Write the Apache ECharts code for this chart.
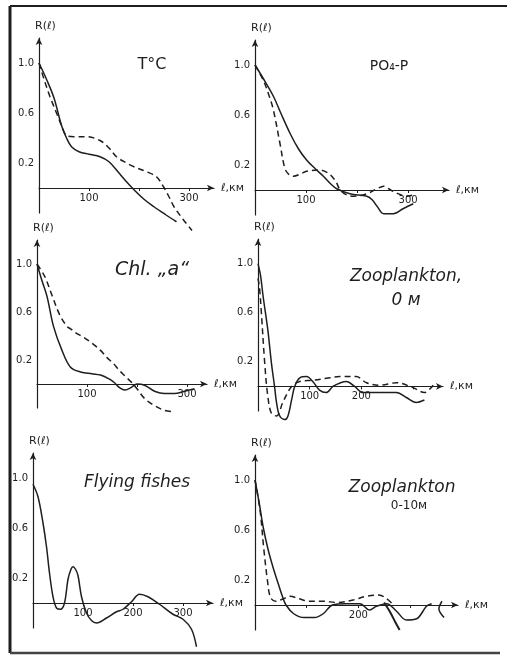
<!DOCTYPE html>
<html>
<head>
<meta charset="utf-8">
<script src="https://cdn.jsdelivr.net/npm/echarts@6/dist/echarts.min.js"></script>
<style>
html,body{margin:0;padding:0;background:#fff;}
#main{width:507px;height:657px;}
</style>
</head>
<body>
<div id="main"></div>
<script>
// panel titles
var titles = ["T°C", "PO₄-P", "Chl. „a“", "Zooplankton,\n0 м", "Flying fishes", "Zooplankton"];
var subTitle6 = "0-10м";
// x labels shown on each panel
var xLabels = [[100, 300], [100, 300], [100, 300], [100, 200], [100, 200, 300], [200]];
var yLabels = [0.2, 0.6, 1.0];

// T°C
var tSolid = [[0,1.0],[15,0.87],[30,0.72],[45,0.5],[55,0.4],[65,0.33],[80,0.29],[100,0.27],[122,0.25],[140,0.21],[160,0.12],[175,0.05],[189,-0.01],[210,-0.09],[230,-0.15],[252,-0.21],[275,-0.27]];
var tDash = [[0,1.0],[10,0.87],[22,0.73],[35,0.6],[45,0.5],[55,0.42],[70,0.41],[95,0.41],[122,0.38],[140,0.32],[155,0.25],[175,0.2],[190,0.17],[215,0.13],[235,0.09],[249,0.01],[260,-0.07],[270,-0.15],[288,-0.25],[306,-0.34]];
// PO4-P
var pSolid = [[0,1.0],[15,0.9],[36,0.75],[50,0.62],[69,0.45],[85,0.33],[101,0.24],[118,0.17],[134,0.11],[148,0.05],[160,0.01],[186,-0.03],[219,-0.05],[230,-0.08],[239,-0.13],[252,-0.19],[271,-0.19],[290,-0.15],[310,-0.11]];
var pDash = [[0,1.0],[16,0.88],[28,0.75],[36,0.64],[49,0.37],[58,0.18],[65,0.13],[75,0.11],[90,0.13],[101,0.15],[127,0.16],[145,0.13],[158,0.07],[167,0.0],[180,-0.04],[193,-0.05],[219,-0.03],[239,0.01],[252,0.03],[262,0.01],[275,-0.02],[297,-0.05],[310,-0.04]];
// Chl a
var cSolid = [[0,1.0],[10,0.86],[20,0.73],[33,0.48],[50,0.28],[67,0.14],[87,0.1],[110,0.085],[127,0.075],[145,0.04],[155,0.01],[165,-0.03],[176,-0.05],[188,-0.03],[200,0.0],[215,-0.01],[235,-0.06],[255,-0.08],[275,-0.08],[295,-0.06],[315,-0.04]];
var cDash = [[0,1.0],[15,0.9],[30,0.74],[45,0.58],[60,0.48],[67,0.46],[80,0.42],[93,0.39],[110,0.34],[127,0.28],[140,0.22],[153,0.17],[163,0.12],[175,0.07],[190,0.01],[200,-0.04],[215,-0.12],[235,-0.18],[255,-0.22],[275,-0.23]];
// Zooplankton 0 m
var zSolid = [[0,1.0],[5,0.9],[10,0.73],[19,0.46],[26,0.19],[32,0.0],[36,-0.135],[42,-0.24],[52,-0.27],[58,-0.24],[65,-0.11],[71,0.0],[81,0.07],[94,0.08],[106,0.04],[119,-0.03],[132,-0.05],[145,0.0],[160,0.03],[171,0.04],[187,0.0],[203,-0.05],[235,-0.05],[268,-0.05],[287,-0.09],[306,-0.13],[322,-0.11]];
var zDash = [[0,0.88],[3,0.8],[6.5,0.6],[13,0.19],[19,-0.08],[26,-0.22],[36,-0.24],[48,-0.13],[65,0.0],[81,0.04],[106,0.05],[139,0.07],[158,0.08],[190,0.08],[210,0.03],[235,0.01],[268,0.03],[300,-0.01],[322,-0.05],[339,0.01]];
// Flying fishes
var fSolid = [[0,0.95],[10,0.85],[20,0.64],[27,0.45],[33,0.24],[40,0.05],[47,-0.04],[55,-0.05],[63,0.0],[70,0.19],[76,0.27],[80,0.29],[85,0.27],[90,0.22],[97,0.05],[107,-0.08],[117,-0.14],[127,-0.16],[147,-0.12],[167,-0.07],[180,-0.05],[197,0.01],[213,0.07],[230,0.05],[253,-0.01],[280,-0.09],[300,-0.13],[317,-0.21],[327,-0.35]];
// Zooplankton 0-10 m
var z10Solid = [[0,1.0],[8,0.82],[16,0.62],[25,0.45],[35,0.3],[45,0.17],[53,0.07],[60,0.0],[75,-0.07],[95,-0.1],[115,-0.1],[132,-0.07],[150,0.0],[177,0.01],[203,0.01],[222,-0.04],[235,-0.01],[255,0.01],[274,-0.05],[293,-0.12],[313,-0.11],[332,-0.01],[342,0.01]];
var z10Dash = [[0,1.0],[10,0.75],[17,0.45],[24,0.2],[30,0.06],[40,0.03],[55,0.05],[68,0.07],[85,0.05],[105,0.03],[130,0.03],[160,0.02],[190,0.04],[215,0.07],[240,0.08],[255,0.05],[268,0.0]];
var z10Extra1 = [[250,0.02],[262,-0.06],[272,-0.14],[280,-0.2]];
var z10Extra2 = [[362,0.03],[356,-0.03],[366,-0.1]];

var grids = [
	{left:39, top:38, width:175, height:175, max:350},
	{left:255, top:40, width:194, height:175, max:380},
	{left:37, top:240, width:170, height:168, max:340},
	{left:258, top:239, width:185, height:172, max:358},
	{left:33, top:453, width:180, height:175, max:360},
	{left:255, top:455, width:203, height:175, max:393}
];
var yMin = -0.2, yMax = 1.2;
var ink = '#1e1e1e';
var fontF = 'DejaVu Sans';

var option = {
	backgroundColor:'#fff',
	animation:false,
	grid:[], xAxis:[], yAxis:[], series:[], title:[]
};

for (var i = 0; i < grids.length; i++) {
	var g = grids[i];
	option.grid.push({left:g.left, top:g.top, width:g.width, height:g.height});
	// x axis drawn through R=0, labels go with it
	var zeroOff = g.height * (0 - yMin) / (yMax - yMin);
	(function(shown){
		option.xAxis.push({
			type:'value', gridIndex:i, min:0, max:g.max, interval:100,
			position:'bottom', offset:-zeroOff,
			name:'ℓ,км', nameLocation:'end', nameGap:7,
			nameTextStyle:{color:ink, fontSize:11, fontFamily:fontF},
			axisLine:{show:true, onZero:false, lineStyle:{color:ink, width:1.2}, symbol:['none','arrow'], symbolSize:[5,7]},
			axisTick:{show:true, length:3, lineStyle:{color:ink}},
			splitLine:{show:false},
			axisLabel:{color:ink, fontSize:10, fontFamily:fontF, margin:5, showMaxLabel:false,
				formatter:function(v){ return shown.indexOf(v) >= 0 ? String(v) : ''; }}
		});
	})(xLabels[i]);
	option.yAxis.push({
		type:'value', gridIndex:i, min:yMin, max:yMax, interval:0.2,
		name:'R(ℓ)', nameLocation:'end', nameGap:6,
		nameTextStyle:{color:ink, fontSize:11, fontFamily:fontF, align:'left', padding:[0,0,0,-4]},
		axisLine:{show:true, onZero:false, lineStyle:{color:ink, width:1.2}, symbol:['none','arrow'], symbolSize:[5,7]},
		axisTick:{show:false},
		splitLine:{show:false},
		axisLabel:{color:ink, fontSize:10, fontFamily:fontF, margin:5,
			formatter:function(v){
				for (var k = 0; k < yLabels.length; k++) {
					if (Math.abs(v - yLabels[k]) < 1e-6) return yLabels[k].toFixed(1);
				}
				return '';
			}}
	});
}

function addLine(idx, data, dashed, w) {
	option.series.push({
		type:'line', xAxisIndex:idx, yAxisIndex:idx, data:data,
		smooth:0.35, showSymbol:false, clip:false,
		lineStyle:{color:ink, width:w || 1.5, type:dashed ? [6,4] : 'solid'}
	});
}
addLine(0, tSolid, false); addLine(0, tDash, true);
addLine(1, pSolid, false); addLine(1, pDash, true);
addLine(2, cSolid, false); addLine(2, cDash, true);
addLine(3, zSolid, false); addLine(3, zDash, true);
addLine(4, fSolid, false);
addLine(5, z10Solid, false); addLine(5, z10Dash, true);
addLine(5, z10Extra1, false, 2); addLine(5, z10Extra2, false);

// titles
var titlePos = [[147,48,16,'normal'],[384,49,14,'normal'],[147,253,19,'italic'],[401,260,17,'italic'],[132,466,17,'italic'],[397,471,17,'italic']];
for (var t = 0; t < titles.length; t++) {
	option.title.push({
		text:titles[t], left:titlePos[t][0], top:titlePos[t][1], textAlign:'center',
		textStyle:{color:ink, fontSize:titlePos[t][2], fontStyle:titlePos[t][3], fontWeight:'normal', fontFamily:fontF, lineHeight:24}
	});
}
option.title.push({text:subTitle6, left:404, top:495, textAlign:'center',
	textStyle:{color:ink, fontSize:12, fontWeight:'normal', fontFamily:fontF}});

// frame of the figure
option.graphic = [
	{type:'line', shape:{x1:10, y1:6, x2:507, y2:6}, style:{stroke:ink, lineWidth:2}},
	{type:'line', shape:{x1:10, y1:6, x2:10, y2:653}, style:{stroke:ink, lineWidth:3}},
	{type:'line', shape:{x1:10, y1:653, x2:500, y2:653}, style:{stroke:'#444', lineWidth:2.5}}
];

var myChart = echarts.init(document.getElementById('main'));
myChart.setOption(option);
</script>
</body>
</html>
